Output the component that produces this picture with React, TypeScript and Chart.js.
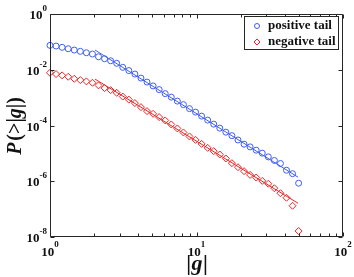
import React, { useEffect, useRef } from 'react';
import { Chart, registerables } from 'chart.js';

Chart.register(...registerables);

// |g| values of the data points
const gValues = [
  1, 1.1, 1.21, 1.331, 1.4641, 1.6105, 1.7716, 1.9487, 2.1436, 2.3579,
  2.5937, 2.8531, 3.1384, 3.4523, 3.7975, 4.1772, 4.595, 5.0545, 5.5599, 6.1159,
  6.7275, 7.4002, 8.1403, 8.9543, 9.8497, 10.835, 11.918, 13.11, 14.421, 15.863,
  17.449, 19.194, 21.114, 23.225, 25.548, 28.102, 30.913, 34.004, 37.404, 41.145,
  45.259, 49.785,
];

// P(>|g|) positive tail
const positiveTail = [
  0.0751, 0.0709, 0.0637, 0.0568, 0.0509, 0.0457, 0.0407, 0.0366, 0.0292, 0.0248,
  0.021, 0.017, 0.0122, 0.00935, 0.007, 0.00503, 0.00361, 0.00263, 0.00194, 0.00139,
  0.00104, 0.00075, 0.000561, 0.000403, 0.000302, 0.000217, 0.000156, 0.000112, 8.04e-5, 5.77e-5,
  4.32e-5, 3.03e-5, 2.14e-5, 1.71e-5, 1.3e-5, 1.02e-5, 7.48e-6, 5.56e-6, 4.34e-6, 2.49e-6,
  1.87e-6, 8.5e-7,
];

// P(>|g|) negative tail
const negativeTail = [
  0.00779, 0.007, 0.00628, 0.0056, 0.00474, 0.00426, 0.00382, 0.00341, 0.00275, 0.0022,
  0.00186, 0.00149, 0.00109, 0.000849, 0.000636, 0.000456, 0.000328, 0.000262, 0.0002, 0.000152,
  0.000109, 7.84e-5, 5.63e-5, 4.05e-5, 3.05e-5, 2.19e-5, 1.58e-5, 1.2e-5, 9.13e-6, 6.56e-6,
  4.45e-6, 3.19e-6, 2.3e-6, 1.69e-6, 1.36e-6, 1.03e-6, 8.16e-7, 5.62e-7, 3.72e-7, 2.56e-7,
  1.32e-7, 1.64e-8,
];

// power-law fit lines
const fitX = [2.03, 49.3];
const positiveFit = [0.0509, 1.4e-6];
const negativeFit = [0.00462, 1.63e-7];

const seriesLabels = ['positive tail', 'negative tail'];

const xMajorTicks = [1, 10, 100];
const xMajorExp = ['0', '1', '2'];
const xMinorTicks = [2, 3, 4, 5, 6, 7, 8, 9, 20, 30, 40, 50, 60, 70, 80, 90];
const yMajorTicks = [1, 1e-2, 1e-4, 1e-6, 1e-8];
const yMajorExp = ['0', '-2', '-4', '-6', '-8'];

const BLUE = '#3f5ef2';
const RED = '#f02424';
const AXIS = '#262626';
const SERIF = '"Liberation Serif", "Times New Roman", serif';

function drawCircle(ctx: CanvasRenderingContext2D, x: number, y: number, r: number, color: string) {
  ctx.beginPath();
  ctx.arc(x, y, r, 0, Math.PI * 2);
  ctx.strokeStyle = color;
  ctx.lineWidth = 1;
  ctx.stroke();
}

function drawDiamond(ctx: CanvasRenderingContext2D, x: number, y: number, r: number, color: string) {
  ctx.beginPath();
  ctx.moveTo(x, y - r);
  ctx.lineTo(x + r, y);
  ctx.lineTo(x, y + r);
  ctx.lineTo(x - r, y);
  ctx.closePath();
  ctx.strokeStyle = color;
  ctx.lineWidth = 1;
  ctx.stroke();
}

const decorPlugin = {
  id: 'decor',
  afterDraw(chart: any) {
    const { ctx, chartArea: a, scales } = chart;
    const xs = scales.x;
    const ys = scales.y;
    const L = Math.round(a.left) + 0.5;
    const R = Math.round(a.right) - 0.5;
    const T = Math.round(a.top) + 0.5;
    const B = Math.round(a.bottom) - 0.5;
    ctx.save();
    ctx.strokeStyle = AXIS;
    ctx.lineWidth = 1;
    ctx.beginPath();
    ctx.rect(L, T, R - L, B - T);
    ctx.stroke();

    const seg = (x1: number, y1: number, x2: number, y2: number) => {
      ctx.beginPath();
      ctx.moveTo(x1, y1);
      ctx.lineTo(x2, y2);
      ctx.stroke();
    };
    const xTick = (v: number, len: number) => {
      const px = Math.round(xs.getPixelForValue(v)) + 0.5;
      seg(px, B, px, B - len);
      seg(px, T, px, T + len);
    };
    xMajorTicks.forEach((v) => xTick(v, 4));
    xMinorTicks.forEach((v) => xTick(v, 3));
    yMajorTicks.forEach((v) => {
      const py = Math.round(ys.getPixelForValue(v)) + 0.5;
      seg(L, py, L + 4, py);
      seg(R, py, R - 4, py);
    });

    // tick labels
    ctx.fillStyle = '#111';
    ctx.textBaseline = 'alphabetic';
    const mainFont = `bold 13px ${SERIF}`;
    const supFont = `bold 9px ${SERIF}`;
    xMajorTicks.forEach((v, i) => {
      const px = xs.getPixelForValue(v);
      ctx.font = mainFont;
      const w1 = ctx.measureText('10').width;
      ctx.font = supFont;
      const w2 = ctx.measureText(xMajorExp[i]).width;
      const x0 = px - (w1 + w2) / 2;
      ctx.textAlign = 'left';
      ctx.font = mainFont;
      ctx.fillText('10', x0, 256);
      ctx.font = supFont;
      ctx.fillText(xMajorExp[i], x0 + w1, 247);
    });
    yMajorTicks.forEach((v, i) => {
      const py = ys.getPixelForValue(v);
      ctx.font = supFont;
      const w2 = ctx.measureText(yMajorExp[i]).width;
      ctx.font = mainFont;
      const w1 = ctx.measureText('10').width;
      const right = 47;
      ctx.textAlign = 'left';
      ctx.fillText('10', right - w2 - w1, py + 5);
      ctx.font = supFont;
      ctx.fillText(yMajorExp[i], right - w2, py - 3);
    });

    // x axis title |g|
    {
      const parts = [
        { t: '|', f: `bold 22px ${SERIF}` },
        { t: 'g', f: `italic bold 22px ${SERIF}` },
        { t: '|', f: `bold 22px ${SERIF}` },
      ];
      let total = 0;
      parts.forEach((p) => { ctx.font = p.f; total += ctx.measureText(p.t).width; });
      let x = (a.left + a.right) / 2 - total / 2;
      ctx.textAlign = 'left';
      parts.forEach((p) => {
        ctx.font = p.f;
        ctx.fillText(p.t, x, 270);
        x += ctx.measureText(p.t).width + 0.5;
      });
    }

    // y axis title P (>|g|)
    {
      const parts = [
        { t: 'P', f: `italic bold 20px ${SERIF}`, gap: 2 },
        { t: '(>|', f: `bold 20px ${SERIF}`, gap: 0 },
        { t: 'g', f: `italic bold 20px ${SERIF}`, gap: 0 },
        { t: '|)', f: `bold 20px ${SERIF}`, gap: 0 },
      ];
      let total = 0;
      parts.forEach((p) => { ctx.font = p.f; total += ctx.measureText(p.t).width + p.gap; });
      ctx.save();
      ctx.translate(16, 126);
      ctx.rotate(-Math.PI / 2);
      ctx.textAlign = 'left';
      ctx.textBaseline = 'middle';
      let x = -total / 2;
      parts.forEach((p) => {
        ctx.font = p.f;
        ctx.fillText(p.t, x, 0);
        x += ctx.measureText(p.t).width + p.gap;
      });
      ctx.restore();
    }

    // legend
    ctx.fillStyle = '#ffffff';
    ctx.fillRect(244, 16, 95, 34);
    ctx.strokeStyle = AXIS;
    ctx.strokeRect(244.5, 16.5, 94, 33);
    drawCircle(ctx, 257, 26, 2.5, BLUE);
    drawDiamond(ctx, 257, 42, 3, RED);
    ctx.fillStyle = '#111';
    ctx.font = `bold 13px ${SERIF}`;
    ctx.textAlign = 'left';
    ctx.textBaseline = 'middle';
    ctx.fillText(seriesLabels[0], 268, 26);
    ctx.fillText(seriesLabels[1], 268, 42);
    ctx.restore();
  },
};

export default function App() {
  const ref = useRef<HTMLCanvasElement | null>(null);
  useEffect(() => {
    if (!ref.current) return;
    const chart = new Chart(ref.current, {
      type: 'scatter',
      data: {
        datasets: [
          {
            label: seriesLabels[0],
            data: gValues.map((g, i) => ({ x: g, y: positiveTail[i] })),
            showLine: false,
            pointStyle: 'circle',
            pointRadius: 3,
            borderColor: BLUE,
            backgroundColor: 'transparent',
            borderWidth: 1,
            clip: false,
          } as any,
          {
            label: seriesLabels[1],
            data: gValues.map((g, i) => ({ x: g, y: negativeTail[i] })),
            showLine: false,
            pointStyle: 'rectRot',
            pointRadius: 3.5,
            borderColor: RED,
            backgroundColor: 'transparent',
            borderWidth: 1,
            clip: false,
          } as any,
          {
            label: 'positive fit',
            data: fitX.map((x, i) => ({ x, y: positiveFit[i] })),
            showLine: true,
            pointRadius: 0,
            borderColor: BLUE,
            borderWidth: 1,
          } as any,
          {
            label: 'negative fit',
            data: fitX.map((x, i) => ({ x, y: negativeFit[i] })),
            showLine: true,
            pointRadius: 0,
            borderColor: RED,
            borderWidth: 1,
          } as any,
        ],
      },
      options: {
        responsive: false,
        animation: false,
        devicePixelRatio: 1,
        layout: { padding: { left: 50, top: 14, right: 11, bottom: 40 } },
        plugins: { legend: { display: false }, tooltip: { enabled: false } },
        scales: {
          x: { type: 'logarithmic', min: 1, max: 100, display: false },
          y: { type: 'logarithmic', min: 1e-8, max: 1, display: false },
        },
      },
      plugins: [decorPlugin],
    });
    return () => chart.destroy();
  }, []);
  return (
    <div style={{ position: 'absolute', left: 0, top: 0, width: 354, height: 277, background: '#fff' }}>
      <canvas ref={ref} width={354} height={277} style={{ display: 'block' }} />
    </div>
  );
}
